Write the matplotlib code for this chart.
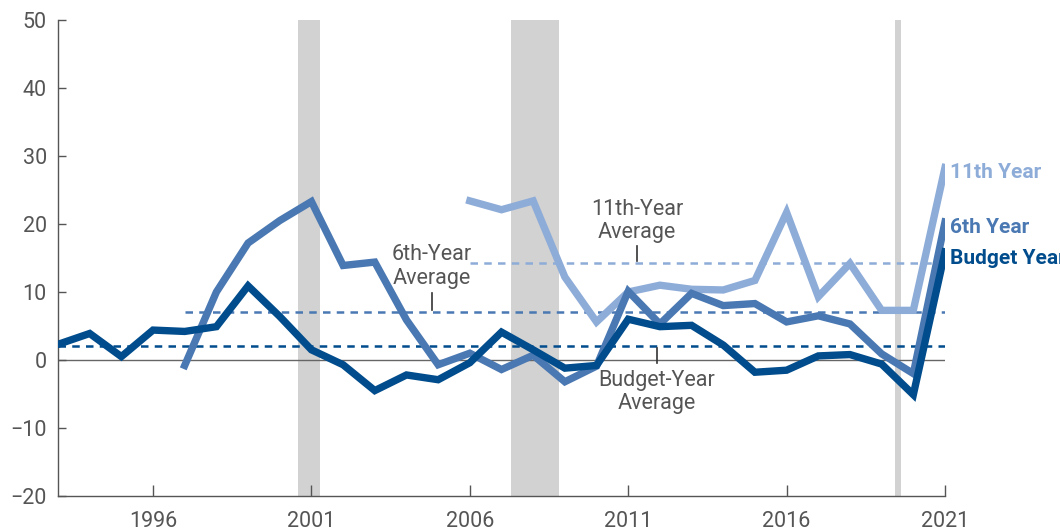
import matplotlib.pyplot as plt

plt.rcParams['font.family'] = ['Roboto', 'DejaVu Sans']

# данные
years = list(range(1993, 2022))
budget_year = [2.3, 3.9, 0.5, 4.4, 4.2, 4.9, 10.9, 6.4, 1.5, -0.7, -4.5, -2.2, -2.9,
               -0.4, 4.1, 1.5, -1.2, -0.8, 6.0, 4.9, 5.1, 2.2, -1.8, -1.5, 0.6, 0.8,
               -0.6, -5.1, 15.9]
years_6th = list(range(1997, 2022))
sixth_year = [-0.8, 10.0, 17.2, 20.5, 23.3, 13.9, 14.4, 5.9, -0.7, 1.0, -1.4, 0.7,
              -3.2, -0.9, 10.1, 5.3, 9.8, 8.0, 8.3, 5.6, 6.5, 5.3, 0.9, -2.0, 20.3]
years_11th = list(range(2006, 2022))
eleventh_year = [23.4, 22.1, 23.4, 12.2, 5.6, 10.0, 11.0, 10.4, 10.3, 11.7, 21.7,
                 9.3, 14.2, 7.3, 7.3, 28.3]

budget_avg = 2.0
sixth_avg = 7.0
eleventh_avg = 14.3

recessions = [(2000.58, 2001.27), (2007.3, 2008.81), (2019.42, 2019.61)]

c_budget = '#004c8c'
c_6th = '#4a78b2'
c_11th = '#8eacd8'
grey = '#555555'

fig = plt.figure(figsize=(10.6, 5.32), dpi=100)
ax = fig.add_axes([58/1060, 36/532, (945-58)/1060, (496-20)/532])

for a, b in recessions:
    ax.axvspan(a, b, color='#d2d2d2', lw=0, zorder=0)

ax.axhline(0, color='#666666', lw=1, zorder=1)

# средние
ax.hlines(budget_avg, 1993, 2021, colors=c_budget, linestyles=(0, (3, 2.5)), lw=1.8, zorder=2)
ax.hlines(sixth_avg, 1997, 2021, colors=c_6th, linestyles=(0, (3, 2.5)), lw=1.8, zorder=2)
ax.hlines(eleventh_avg, 2006, 2021, colors=c_11th, linestyles=(0, (3, 2.5)), lw=1.8, zorder=2)

ax.plot(years_11th, eleventh_year, color=c_11th, lw=5.3, zorder=3, solid_joinstyle='miter')
ax.plot(years_6th, sixth_year, color=c_6th, lw=5.3, zorder=4, solid_joinstyle='miter')
ax.plot(years, budget_year, color=c_budget, lw=5.3, zorder=5, solid_joinstyle='miter')

# подписи средних
ax.text(2004.8, 10.5, '6th-Year\nAverage', ha='center', va='bottom', fontsize=15.5,
        color=grey, linespacing=1.15)
ax.plot([2004.8, 2004.8], [7.4, 9.8], color='#333333', lw=1.2)
ax.text(2011.28, 17.2, '11th-Year\nAverage', ha='center', va='bottom', fontsize=15.5,
        color=grey, linespacing=1.15)
ax.plot([2011.28, 2011.28], [14.5, 16.7], color='#333333', lw=1.2)
ax.text(2011.9, -1.4, 'Budget-Year\nAverage', ha='center', va='top', fontsize=15.5,
        color=grey, linespacing=1.15)
ax.plot([2011.9, 2011.9], [-0.4, 1.8], color='#333333', lw=1.2)

# подписи серий
ax.text(2021.15, 27.5, '11th Year', color=c_11th, fontsize=15, fontweight='bold',
        va='center', clip_on=False)
ax.text(2021.15, 19.5, '6th Year', color=c_6th, fontsize=15, fontweight='bold',
        va='center', clip_on=False)
ax.text(2021.15, 14.9, 'Budget Year', color=c_budget, fontsize=15, fontweight='bold',
        va='center', clip_on=False)

ax.set_xlim(1993, 2021)
ax.set_ylim(-20, 50)
ax.set_xticks([1996, 2001, 2006, 2011, 2016, 2021])
ax.set_yticks(range(-20, 51, 10))
ax.tick_params(direction='in', length=8, width=1, color='#555555', labelsize=15.5,
               labelcolor=grey, pad=8)
ax.tick_params(axis='x', pad=11)
ax.tick_params(axis='y', length=6)
for s in ['top', 'right']:
    ax.spines[s].set_visible(False)
for s in ['left', 'bottom']:
    ax.spines[s].set_color('#555555')
    ax.spines[s].set_linewidth(1)

fig.savefig('out.png', dpi=100)
